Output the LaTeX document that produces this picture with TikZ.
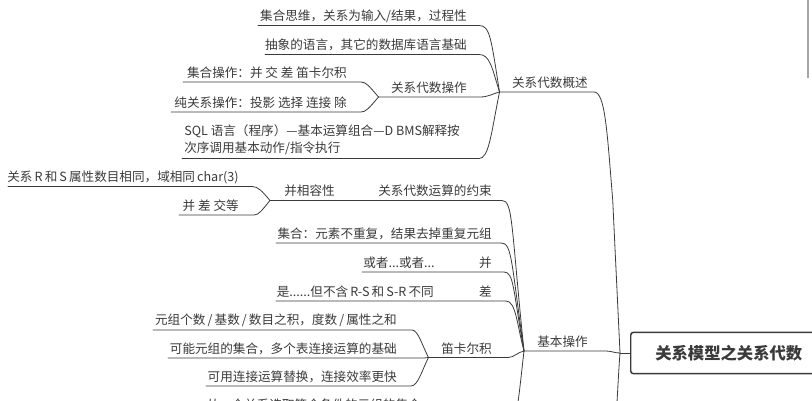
\documentclass[tikz,border=0pt]{standalone}
\usepackage{fontspec}
\setmainfont{Noto Sans CJK SC}
\definecolor{inkgrey}{HTML}{3A3A3A}
\tikzset{
  topic/.style={anchor=base east,inner sep=0pt,font=\fontsize{9.45pt}{12pt}\selectfont,text=inkgrey},
  branch/.style={draw=inkgrey,line width=0.6pt},
  rootbox/.style={draw=inkgrey,line width=1.1pt,rounded corners=2pt,fill=white,minimum width=200pt,minimum height=31pt}
}
\begin{document}
\begin{tikzpicture}[x=0.75pt,y=-0.75pt,line cap=round]
  \useasboundingbox (0,0) rectangle (812,400);
  % overview branch
  \node[topic] (tSet) at (467,20) {集合思维，关系为输入/结果，过程性};
  \node[topic] (tLang) at (467,49) {抽象的语言，其它的数据库语言基础};
  \node[topic] (tOps) at (467,92) {关系代数操作};
  \node[topic] (tSetOp) at (347,77) {集合操作：并 交 差 笛卡尔积};
  \node[topic] (tPure) at (347,107) {纯关系操作：投影 选择 连接 除};
  \node[topic,anchor=base west] (tSql) at (184,135) {SQL 语言（程序）—基本运算组合—D BMS解释按};
  \node[topic,anchor=base west] (tSqlb) at (184,152) {次序调用基本动作/指令执行};
  \node[topic] (tOver) at (588,87) {关系代数概述};
  % constraints branch
  \node[topic] (tCons) at (492,195) {关系代数运算的约束};
  \node[topic] (tComp) at (335,195) {并相容性};
  \node[topic] (tAttr) at (239,181) {关系\,R\,和\,S\,属性数目相同，域相同\,char(3)};
  \node[topic] (tEq) at (239,210) {并 差 交等};
  % basic operations
  \node[topic] (tElem) at (492,238) {集合：元素不重复，结果去掉重复元组};
  \node[topic] (tOr) at (435,267) {或者...或者...};
  \node[topic] (tUnion) at (492,267) {并};
  \node[topic] (tBut) at (434,296) {是......但不含\,R-S\,和\,S-R\,不同};
  \node[topic] (tDiff) at (492,296) {差};
  \node[topic] (tTuple) at (397,324) {元组个数\,/\,基数\,/\,数目之积，度数\,/\,属性之和};
  \node[topic] (tMaybe) at (397,353) {可能元组的集合，多个表连接运算的基础};
  \node[topic] (tProd) at (492,353) {笛卡尔积};
  \node[topic] (tJoin) at (397,381) {可用连接运算替换，连接效率更快};
  \node[topic] (tNext) at (421,409) {从一个关系选取符合条件的元组的集合};
  \node[topic] (tBasic) at (588,346) {基本操作};
  \node[rootbox,anchor=west] (root) at (630,353) {};
  \node[anchor=west,inner sep=0pt,font=\fontsize{12.25pt}{15pt}\selectfont\bfseries,text=inkgrey] (tRoot) at (655,353) {关系模型之关系代数};
  % hubs and free ends
  \coordinate (hubOver) at (499.5,92);
  \coordinate (hubOps) at (378.5,97);
  \coordinate (hubComp) at (270,200.5);
  \coordinate (hubBasic) at (524,351);
  \coordinate (hubProd) at (428.5,357.5);
  \coordinate (hubRoot) at (620,353);
  \coordinate (lSet) at (258,25.5);
  \coordinate (lLang) at (265,54.5);
  \coordinate (lSetOp) at (183,82);
  \coordinate (lPure) at (171,112);
  \coordinate (lSql) at (182,158.5);
  \coordinate (lAttr) at (8,186.5);
  \coordinate (lEq) at (179,215);
  \coordinate (lElem) at (276,243);
  \coordinate (lOr) at (362,272);
  \coordinate (lBut) at (276,301);
  \coordinate (lTuple) at (153,330);
  \coordinate (lMaybe) at (168,358);
  \coordinate (lJoin) at (206,386);
  \coordinate (lowBasic) at (518,402);
  \coordinate (lowRoot) at (617,402);
  % overview lines
  \draw[branch] (lSet) -- (479,25.5) .. controls (490,25.5) and (491,38) .. (hubOver);
  \draw[branch] (lLang) -- (479,54.5) .. controls (490,54.5) and (492,68) .. (hubOver);
  \draw[branch] (hubOps) -- (480,97) .. controls (488,97) and (492,94) .. (hubOver);
  \draw[branch] (lSql) -- (479,158.5) .. controls (489,158.5) and (491,134) .. (hubOver);
  \draw[branch] (lSetOp) -- (361,82) .. controls (366,82) and (369,86) .. (hubOps);
  \draw[branch] (lPure) -- (361,112) .. controls (366,112) and (369,108) .. (hubOps);
  \draw[branch] (hubOver) -- (594,92) .. controls (605,92) and (607,130) .. (612.7,200) -- (hubRoot);
  \draw[branch] (hubRoot) -- (root.west);
  % constraints lines
  \draw[branch] (lAttr) -- (252,186.5) .. controls (258,186.5) and (262,191) .. (hubComp);
  \draw[branch] (lEq) -- (254,215) .. controls (259,215) and (262,210) .. (hubComp);
  \draw[branch] (hubComp) -- (502,200.5) .. controls (513,200.5) and (511,225) .. (hubBasic);
  % basic lines
  \draw[branch] (lElem) -- (501,243) .. controls (512,243) and (511,260) .. (hubBasic);
  \draw[branch] (lOr) -- (504,272) .. controls (514,272) and (513,290) .. (hubBasic);
  \draw[branch] (lBut) -- (506,301) .. controls (516,301) and (517,325) .. (hubBasic);
  \draw[branch] (hubProd) -- (508,357.5) .. controls (514,357.5) and (518,352) .. (hubBasic);
  \draw[branch] (lTuple) -- (412,330) .. controls (418,330) and (422,345) .. (hubProd);
  \draw[branch] (lMaybe) -- (424,358) -- (hubProd);
  \draw[branch] (lJoin) -- (411,386) .. controls (418,386) and (422,370) .. (hubProd);
  \draw[branch] (hubBasic) .. controls (522,368) and (520,388) .. (lowBasic);
  \draw[branch] (hubBasic) -- (606,351) .. controls (611,351) and (615,353) .. (hubRoot);
  \draw[branch] (hubRoot) .. controls (619,365) and (618,385) .. (lowRoot);
  % scrollbar on the right
  \fill[gray!70] (806.5,0) rectangle (809,78);
\end{tikzpicture}
\end{document}
